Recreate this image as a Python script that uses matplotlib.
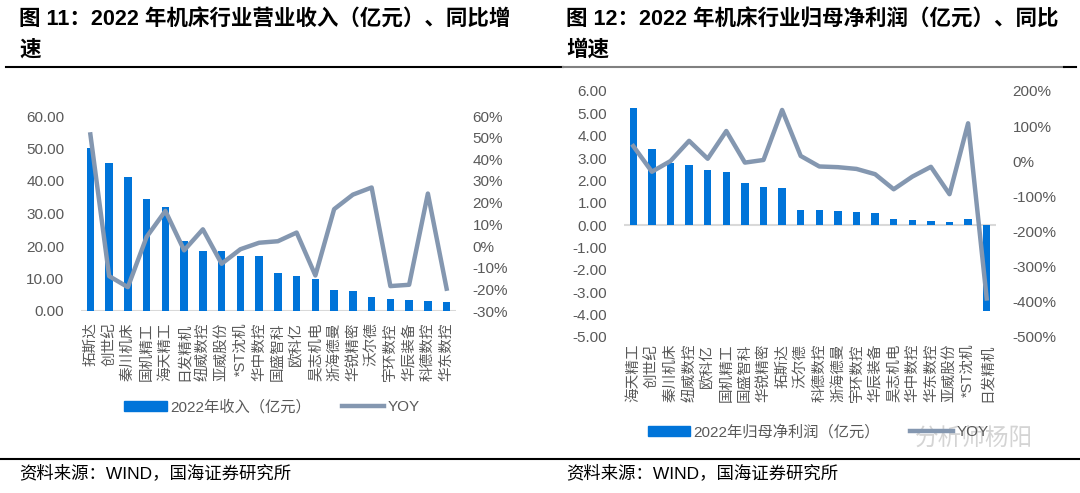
import numpy as np
import matplotlib.pyplot as plt
from matplotlib.patches import Patch
from matplotlib.lines import Line2D
import matplotlib.ticker as mticker

plt.rcParams['font.family'] = ['Liberation Sans', 'Noto Sans CJK SC']

# 图11 数据
companies_rev = ['拓斯达', '创世纪', '秦川机床', '国机精工', '海天精工', '日发精机', '纽威数控',
                 '亚威股份', '*ST沈机', '华中数控', '国盛智科', '欧科亿', '昊志机电', '浙海德曼',
                 '华锐精密', '沃尔德', '宇环数控', '华辰装备', '科德数控', '华东数控']
revenue = [50.0, 45.4, 41.1, 34.5, 31.9, 21.5, 18.6, 18.4, 16.9, 16.8,
           11.7, 10.7, 10.0, 6.4, 6.2, 4.3, 3.6, 3.4, 3.2, 2.7]
rev_yoy = [51.5, -13.9, -19.0, 4.2, 16.2, -2.0, 7.7, -8.2, -1.5, 1.5,
           2.2, 6.2, -13.6, 17.0, 23.7, 27.0, -18.5, -17.9, 24.2, -19.7]

# 图12 数据
companies_np = ['海天精工', '创世纪', '秦川机床', '纽威数控', '欧科亿', '国机精工', '国盛智科',
                '华锐精密', '拓斯达', '沃尔德', '科德数控', '浙海德曼', '宇环数控', '华辰装备',
                '昊志机电', '华中数控', '华东数控', '亚威股份', '*ST沈机', '日发精机']
net_profit = [5.25, 3.39, 2.79, 2.67, 2.48, 2.37, 1.90, 1.70, 1.64, 0.67,
              0.66, 0.64, 0.60, 0.52, 0.27, 0.22, 0.16, 0.12, 0.27, -3.87]
np_yoy = [43, -30, 0.5, 58, 7, 86, -4, 3.5, 146, 15,
          -15, -17, -22, -37, -80, -44, -16, -94, 108, -391]

BLUE = '#0074D9'
GRAY = '#8497B0'
TICK = '#595959'

fig = plt.figure(figsize=(10.8, 4.93), dpi=100)
W, H = 1080, 493


def px_axes(x0, x1, ytop, ybot):
    return fig.add_axes([x0 / W, 1 - ybot / H, (x1 - x0) / W, (ybot - ytop) / H])


def draw(ax, names, vals, yoy, ylim, yticks, ylim2, yticks2):
    x = np.arange(len(names))
    ax.bar(x, vals, width=0.4, color=BLUE, zorder=2)
    ax.axhline(0, color='#D9D9D9', lw=1.5, zorder=1)
    ax.set_xlim(-0.5, len(names) - 0.5)
    ax.set_ylim(*ylim)
    ax.set_yticks(yticks)
    ax.yaxis.set_major_formatter(mticker.FormatStrFormatter('%.2f'))
    ax.set_xticks(x)
    ax.set_xticklabels(names, rotation=90, color=TICK)
    for s in ax.spines.values():
        s.set_visible(False)
    ax.tick_params(axis='both', length=0, labelsize=11, colors=TICK)
    ax.tick_params(axis='y', pad=12)
    ax.tick_params(axis='x', pad=8, labelsize=10.5)
    ax2 = ax.twinx()
    ax2.plot(x, yoy, color=GRAY, lw=3.2, zorder=3)
    ax2.set_ylim(*ylim2)
    ax2.set_yticks(yticks2)
    ax2.yaxis.set_major_formatter(mticker.FuncFormatter(lambda v, p: f'{v:.0f}%'))
    for s in ax2.spines.values():
        s.set_visible(False)
    ax2.tick_params(axis='y', length=0, labelsize=11, colors=TICK, pad=12)
    return ax2


ax1 = px_axes(81, 456, 116, 311)
draw(ax1, companies_rev, revenue, rev_yoy, (0, 60), np.arange(0, 61, 10),
     (-30, 60), np.arange(-30, 61, 10))

ax3 = px_axes(624, 996, 91, 336.7)
draw(ax3, companies_np, net_profit, np_yoy, (-5, 6), np.arange(-5, 7, 1),
     (-500, 200), np.arange(-500, 201, 100))
ax3.tick_params(axis='x', pad=5)

# 图例
for cx, cy, lab in [(272, 407, '2022年收入（亿元）'), (818, 432, '2022年归母净利润（亿元）')]:
    handles = [Patch(color=BLUE, label=lab), Line2D([], [], color=GRAY, lw=3.2, label='YOY')]
    fig.legend(handles=handles, loc='center', bbox_to_anchor=(cx / W, 1 - cy / H), ncol=2,
               frameon=False, fontsize=11, handlelength=2.8, handleheight=0.55,
               columnspacing=2.0, handletextpad=0.2, labelcolor=TICK)

# 标题
title_kw = dict(fontsize=15.5, fontweight='bold', color='black', va='center', ha='left')
fig.text(19 / W, 1 - 20 / H, '图 11：2022 年机床行业营业收入（亿元）、同比增', **title_kw)
fig.text(19 / W, 1 - 50 / H, '速', **title_kw)
fig.text(566 / W, 1 - 20 / H, '图 12：2022 年机床行业归母净利润（亿元）、同比', **title_kw)
fig.text(566 / W, 1 - 50 / H, '增速', **title_kw)

# 分隔线
fig.add_artist(Line2D([6 / W, 563 / W], [1 - 67 / H] * 2, color='black', lw=1.5))
fig.add_artist(Line2D([563 / W, 1064 / W], [1 - 67 / H] * 2, color='#808080', lw=1.5))
fig.add_artist(Line2D([1064 / W, 1076 / W], [1 - 67 / H] * 2, color='black', lw=1.5))
fig.add_artist(Line2D([0, 1], [1 - 459 / H] * 2, color='black', lw=1.5))

# 资料来源
fig.text(19 / W, 1 - 473 / H, '资料来源：WIND，国海证券研究所', fontsize=12.5, va='center')
fig.text(566 / W, 1 - 473 / H, '资料来源：WIND，国海证券研究所', fontsize=12.5, va='center')

# 水印
fig.text(915 / W, 1 - 440 / H, '分析师杨阳', fontsize=17, color='#d0d0d0', va='center', alpha=0.9)

fig.savefig('out.png', dpi=100)
